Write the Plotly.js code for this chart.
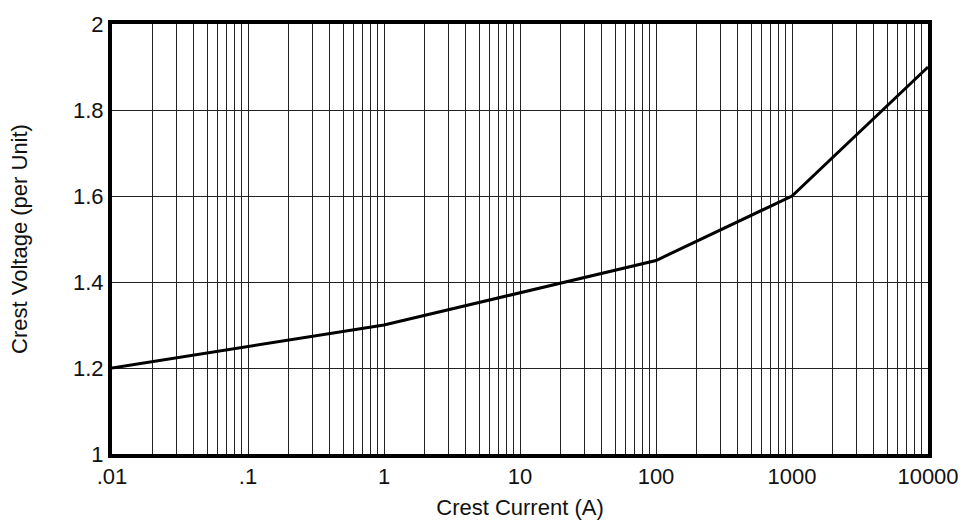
<!DOCTYPE html>
<html>
<head>
<meta charset="utf-8">
<script src="https://cdn.plot.ly/plotly-3.0.1.min.js"></script>
<style>html,body{margin:0;padding:0;background:#fff;}#chart{width:969px;height:524px;}</style>
</head>
<body>
<div id="chart"></div>
<script>
const crestCurrent = [0.01, 1, 100, 1000, 10000];
const crestVoltage = [1.2, 1.3, 1.45, 1.6, 1.9];
const xMajorTicks = [0.01, 0.1, 1, 10, 100, 1000, 10000];
const xMajorLabels = [".01", ".1", "1", "10", "100", "1000", "10000"];
const yTicks = [1, 1.2, 1.4, 1.6, 1.8, 2];
const yLabels = ["1", "1.2", "1.4", "1.6", "1.8", "2"];

const xVals = [], xText = [];
for (let d = 0; d < xMajorTicks.length; d++) {
  xVals.push(xMajorTicks[d]); xText.push(xMajorLabels[d]);
  if (d < xMajorTicks.length - 1) {
    for (let m = 2; m <= 9; m++) { xVals.push(xMajorTicks[d] * m); xText.push(""); }
  }
}

const tickFont = {family: "Liberation Sans, Arial, sans-serif", size: 22, color: "#111"};
const titleFont = {family: "Liberation Sans, Arial, sans-serif", size: 22, color: "#111"};

Plotly.newPlot("chart", [{
  x: crestCurrent, y: crestVoltage, type: "scatter", mode: "lines",
  line: {color: "#000", width: 3}, showlegend: false, hoverinfo: "skip"
}], {
  width: 969, height: 524,
  margin: {l: 112, r: 41, t: 24, b: 70},
  paper_bgcolor: "#fff", plot_bgcolor: "#fff",
  font: tickFont,
  xaxis: {
    type: "log", range: [-2, 4],
    tickmode: "array", tickvals: xVals, ticktext: xText,
    showgrid: true, gridcolor: "#222", gridwidth: 1,
    showline: true, linecolor: "#000", linewidth: 4, mirror: true,
    ticks: "", zeroline: false, tickfont: tickFont,
    title: {text: "Crest Current (A)", font: titleFont, standoff: 12}
  },
  yaxis: {
    range: [1, 2],
    tickmode: "array", tickvals: yTicks, ticktext: yLabels,
    showgrid: true, gridcolor: "#222", gridwidth: 1,
    showline: true, linecolor: "#000", linewidth: 4, mirror: true,
    ticks: "", zeroline: false, tickfont: tickFont,
    title: {text: "Crest Voltage (per Unit)", font: titleFont, standoff: 40}
  }
}, {staticPlot: true, displayModeBar: false});
</script>
</body>
</html>
